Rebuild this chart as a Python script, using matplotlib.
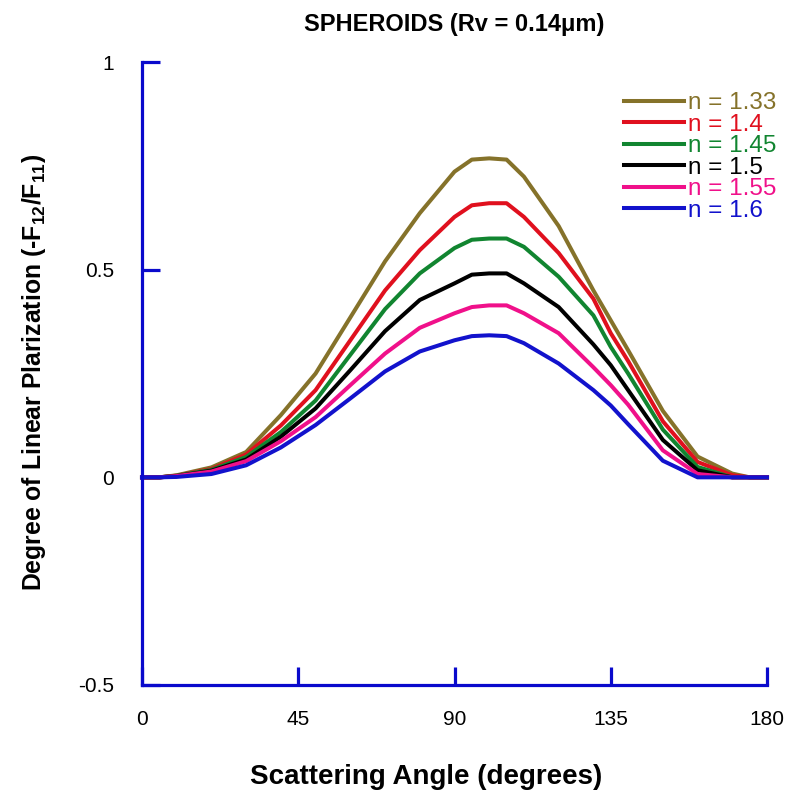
import matplotlib
matplotlib.use("Agg")
import matplotlib.pyplot as plt
import numpy as np

plt.rcParams['font.family'] = ['Liberation Sans', 'DejaVu Sans']
plt.rcParams['mathtext.fontset'] = 'custom'
plt.rcParams['mathtext.rm'] = 'Liberation Sans:bold'
plt.rcParams['mathtext.it'] = 'Liberation Sans:bold'
plt.rcParams['mathtext.bf'] = 'Liberation Sans:bold'

# scattering angle (degrees)
angle = [0, 5, 10, 20, 30, 40, 50, 60, 70, 80, 90, 95, 100, 105, 110,
         120, 130, 135, 140, 150, 160, 170, 175, 180]

# degree of linear polarization for each refractive index
p133 = [0, 0, 0.005, 0.024, 0.061, 0.15, 0.25, 0.385, 0.52, 0.636, 0.736, 0.765,
        0.768, 0.765, 0.724, 0.605, 0.45, 0.378, 0.306, 0.16, 0.05, 0.009, 0, 0]
p140 = [0, 0, 0.004, 0.02, 0.055, 0.125, 0.21, 0.33, 0.45, 0.547, 0.627, 0.655,
        0.66, 0.66, 0.627, 0.54, 0.43, 0.347, 0.28, 0.135, 0.037, 0.005, 0, 0]
p145 = [0, 0, 0.004, 0.018, 0.049, 0.109, 0.185, 0.295, 0.405, 0.491, 0.552, 0.572,
        0.575, 0.575, 0.555, 0.483, 0.39, 0.314, 0.25, 0.115, 0.025, 0, 0, 0]
p150 = [0, 0, 0.003, 0.016, 0.043, 0.098, 0.166, 0.258, 0.352, 0.427, 0.467, 0.488,
        0.491, 0.491, 0.467, 0.41, 0.32, 0.27, 0.21, 0.09, 0.017, 0, 0, 0]
p155 = [0, 0, 0.003, 0.014, 0.039, 0.087, 0.145, 0.222, 0.298, 0.36, 0.395, 0.41,
        0.414, 0.414, 0.395, 0.347, 0.265, 0.222, 0.175, 0.065, 0.008, 0, 0, 0]
p160 = [0, 0, 0.001, 0.008, 0.029, 0.072, 0.126, 0.19, 0.255, 0.303, 0.33, 0.34,
        0.342, 0.34, 0.323, 0.274, 0.21, 0.173, 0.128, 0.04, 0, 0, 0, 0]

series = [p133, p140, p145, p150, p155, p160]
labels = ['n = 1.33', 'n = 1.4', 'n = 1.45', 'n = 1.5', 'n = 1.55', 'n = 1.6']
colors = ['#85722A', '#E0101E', '#118530', '#000000', '#F0108A', '#1212CC']

xticks = [0, 45, 90, 135, 180]
yticks = [-0.5, 0, 0.5, 1]
ytick_labels = ['-0.5', '0', '0.5', '1']

axis_blue = '#0A0ACC'

fig = plt.figure(figsize=(7.98, 7.95), dpi=100)
ax = fig.add_axes([142/798, 1-685/795, (767-142)/798, (685-62)/795])

for y, lab, c in zip(series, labels, colors):
    ax.plot(angle, y, color=c, lw=2.9, label=lab, clip_on=False)

ax.set_xlim(0, 180)
ax.set_ylim(-0.5, 1)
ax.set_xticks(xticks)
ax.set_xticklabels([str(t) for t in xticks])
ax.set_yticks(yticks)
ax.set_yticklabels(ytick_labels)

for side in ['top', 'right']:
    ax.spines[side].set_visible(False)
for side in ['left', 'bottom']:
    ax.spines[side].set_color(axis_blue)
    ax.spines[side].set_linewidth(2.3)

ax.tick_params(direction='in', length=13, width=2.3, color=axis_blue,
               labelsize=15)
ax.tick_params(axis='x', pad=18)
ax.tick_params(axis='y', pad=20)

ax.set_title('SPHEROIDS (Rv = 0.14\u03bcm)', fontsize=17, fontweight='bold', pad=22)
ax.set_xlabel('Scattering Angle (degrees)', fontsize=20, fontweight='bold')
ax.xaxis.set_label_coords(0.455, -0.127)
ax.set_ylabel('Degree of Linear Plarization (-F$_{12}$/F$_{11}$)', fontsize=17.8,
              fontweight='bold')
ax.yaxis.set_label_coords(-0.15, 0.502)

leg = ax.legend(loc='upper right', bbox_to_anchor=(789/798, 1-80/795),
                bbox_transform=fig.transFigure, frameon=False, fontsize=17.5,
                handlelength=2.45, handletextpad=0.2, labelspacing=-0.02,
                borderpad=0, labelcolor='linecolor')

fig.savefig('out.png', dpi=100)
